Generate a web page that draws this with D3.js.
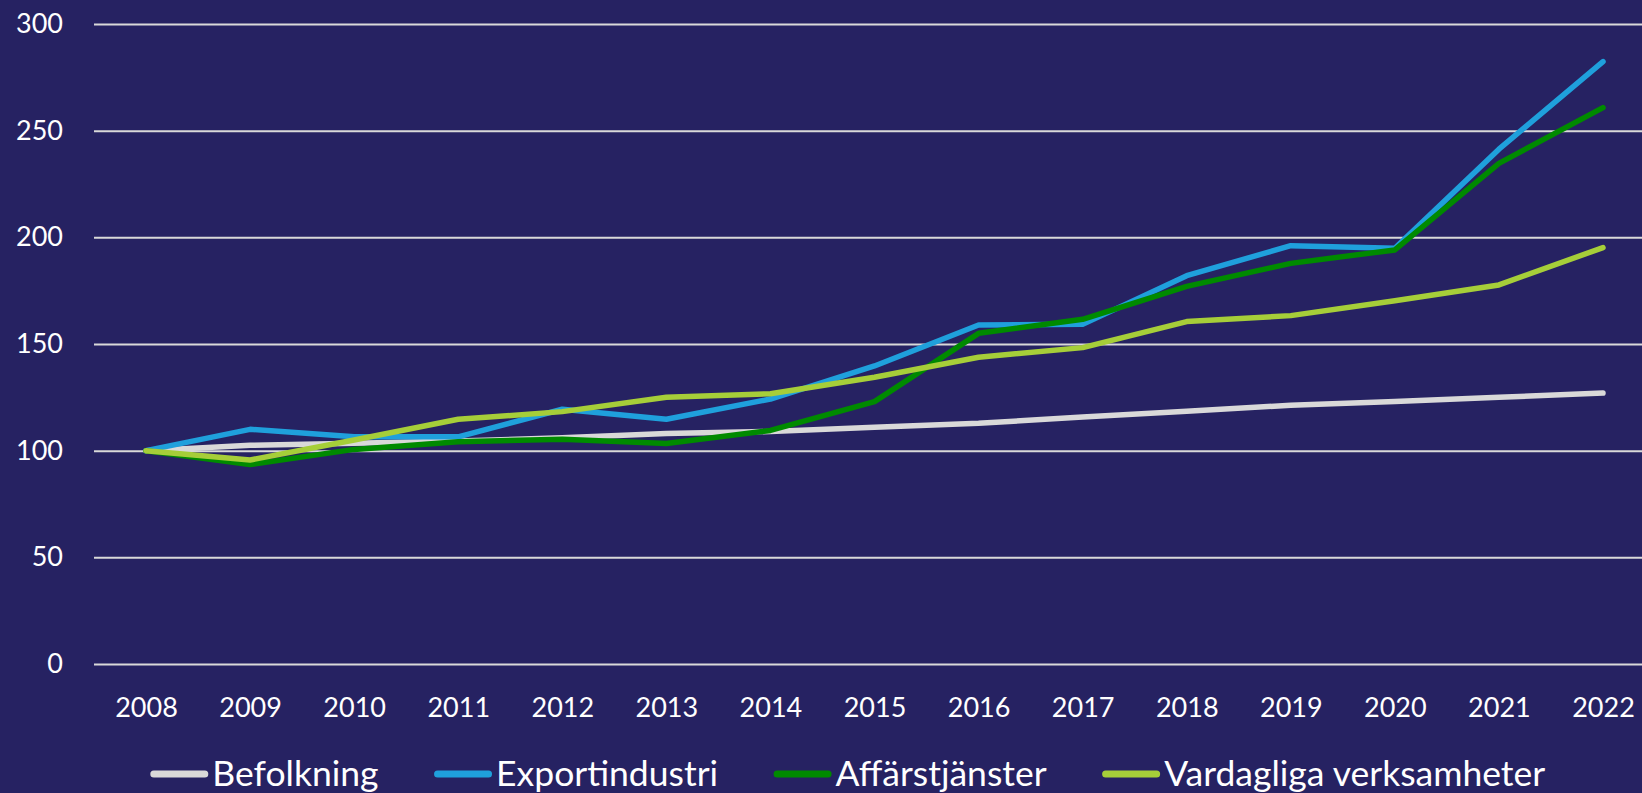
<!DOCTYPE html>
<html>
  <head>
    <meta charset="utf-8">
    <title>Index 2008 = 100</title>
    <style media="screen">
    body{margin: 0; background: #262262}
    svg text{font-family: Lato, "Noto Sans", sans-serif; fill: #fff}
    </style>
  </head>
  <body>
    <script src="https://d3js.org/d3.v7.min.js"></script>
    <script type="text/javascript">
      var w = 1642, h = 793;

      var years = [2008, 2009, 2010, 2011, 2012, 2013, 2014, 2015, 2016, 2017, 2018, 2019, 2020, 2021, 2022];
      var yTicks = [0, 50, 100, 150, 200, 250, 300];

      var befolkning = [100, 102.5, 103.5, 104.5, 106, 108, 109, 111, 112.8, 115.8, 118.5, 121.3, 123, 125, 127];
      var exportindustri = [100, 110, 106.5, 106.5, 119.4, 114.7, 124.2, 139.7, 158.9, 159.2, 182, 196.1, 194.9, 241.3, 282.4];
      var affarstjanster = [100, 93.5, 100.6, 104.2, 105.3, 103.4, 109.5, 123, 155, 161.6, 177, 187.8, 194.1, 234.7, 260.8];
      var vardagliga = [100, 95.6, 105, 114.7, 118.3, 125, 126.7, 134.4, 143.8, 148.3, 160.5, 163.3, 170.3, 177.7, 195.2];

      var series = [
        {name: 'Befolkning', values: befolkning, color: '#d9d9d9'},
        {name: 'Exportindustri', values: exportindustri, color: '#1fa0dc'},
        {name: 'Affärstjänster', values: affarstjanster, color: '#008a00'},
        {name: 'Vardagliga verksamheter', values: vardagliga, color: '#a6ce39'}
      ];

      var svg = d3.select('body').append('svg')
        .attr('width', w)
        .attr('height', h)

      var x = d3.scalePoint().domain(years).range([146, 1603])
      var y = d3.scaleLinear().domain([0, 300]).range([664, 24])

      // grid
      svg.append('g')
        .attr('transform', 'translate(94,0)')
        .call(d3.axisLeft(y).tickValues(yTicks).tickSize(-(w - 94)).tickPadding(31).tickFormat(d3.format('d')))
        .call(function(g){
          g.select('.domain').remove()
          g.selectAll('line').attr('stroke', '#d9d9d9').attr('stroke-width', 2)
          g.selectAll('text').attr('font-size', 27).attr('fill', '#fff')
        })

      svg.append('g')
        .attr('transform', 'translate(0,664)')
        .call(d3.axisBottom(x).tickSize(0).tickPadding(34))
        .call(function(g){
          g.select('.domain').remove()
          g.selectAll('text').attr('font-size', 27).attr('fill', '#fff')
        })

      var line = d3.line()
        .x(function(d, i){ return x(years[i]) })
        .y(function(d){ return y(d) })

      svg.selectAll('path.series')
        .data(series)
        .enter()
          .append('path')
          .attr('class', 'series')
          .attr('fill', 'none')
          .attr('stroke', function(d){ return d.color })
          .attr('stroke-width', 5.5)
          .attr('stroke-linejoin', 'round')
          .attr('stroke-linecap', 'round')
          .attr('d', function(d){ return line(d.values) })

      // legend
      var legend = svg.append('g')
      var items = legend.selectAll('g')
        .data(series)
        .enter()
          .append('g')

      items.append('line')
        .attr('x1', 3.5).attr('x2', 54.5)
        .attr('y1', 0).attr('y2', 0)
        .attr('stroke', function(d){ return d.color })
        .attr('stroke-width', 7)
        .attr('stroke-linecap', 'round')

      items.append('text')
        .attr('x', 62)
        .attr('y', 12)
        .attr('font-size', 35.5)
        .text(function(d){ return d.name })

      var gap = 59
      var pos = 0
      items.each(function(){
        var bw = this.getBBox().width
        d3.select(this).attr('data-x', pos)
        pos += bw + gap
      })
      var total = pos - gap
      var start = 846 - total / 2
      items.attr('transform', function(){
        return 'translate(' + (start + (+this.getAttribute('data-x'))) + ',774)'
      })

    </script>

  </body>
</html>
